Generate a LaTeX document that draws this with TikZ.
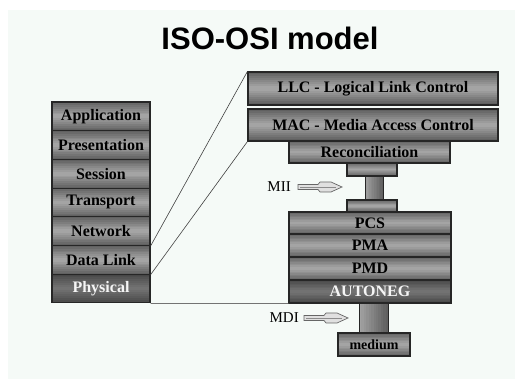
\documentclass[tikz,border=0pt]{standalone}
\usepackage{fontspec}
\setmainfont{Liberation Serif}
\newfontfamily\titlefont{Liberation Sans}
\usetikzlibrary{calc,backgrounds}
\definecolor{bgc}{RGB}{245,250,247}
\definecolor{dk}{RGB}{92,92,92}
\definecolor{md}{RGB}{170,170,170}
\definecolor{dkk}{RGB}{68,68,68}
\definecolor{mdd}{RGB}{118,118,118}
\definecolor{cyll}{RGB}{165,165,165}
\definecolor{txt}{RGB}{0,0,0}
\definecolor{ltxt}{RGB}{245,245,245}
\tikzset{
  layer/.style={draw=black!85, line width=1.1pt, inner sep=0pt, text=txt, font=\fontsize{16}{16}\bfseries\selectfont},
  darklayer/.style={layer, text=ltxt},
  cyl/.style={draw=black!85, line width=0.8pt, inner sep=0pt},
  lbl/.style={text=txt, font=\fontsize{15}{15}\selectfont, inner sep=0pt},
  link/.style={draw=black!75, line width=0.6pt},
  hollowarrow/.pic={
    \draw[fill=black!12, draw=black!60, line width=0.7pt]
      (0,-2.5) -- (20,-2.5) -- (22,-5) -- (33,-5) -- (44,0) -- (33,5) -- (22,5) -- (20,2.5) -- (0,2.5) -- cycle;
    \draw[black!45, line width=0.5pt] (2,0) -- (38,0);
  }
}
% vertical gradient (edge colour #2 at top and bottom, #3 in the middle)
\newcommand\vgradbox[3]{%
  \begin{pgfonlayer}{background}
  \foreach \i in {0,...,15} {
    \pgfmathtruncatemacro\p{100*(1-abs((\i+0.5)/8-1))}
    \fill[#3!\p!#2] ($(#1.north west)!{\i/16}!(#1.south west)$) rectangle ($(#1.north east)!{min(1,(\i+1.2)/16)}!(#1.south east)$);
  }
  \end{pgfonlayer}}
% horizontal gradient, light left to dark right
\newcommand\hgradbox[3]{%
  \begin{pgfonlayer}{background}
  \foreach \i in {0,...,11} {
    \pgfmathtruncatemacro\p{100*(\i+0.5)/12}
    \fill[#3!\p!#2] ($(#1.north west)!{\i/12}!(#1.north east)$) rectangle ($(#1.south west)!{min(1,(\i+1.2)/12)}!(#1.south east)$);
  }
  \end{pgfonlayer}}
\begin{document}
\begin{tikzpicture}[x=1pt,y=-1pt]
\useasboundingbox (0,0) rectangle (515,379);
\begin{pgfonlayer}{background}
\fill[white] (0,0) rectangle (515,379);
\fill[bgc] (8,10) rectangle (515,379);
\end{pgfonlayer}

\node[text=black, font=\titlefont\bfseries\fontsize{31}{31}\selectfont, anchor=base, inner sep=0pt] (title) at (270,50) {ISO-OSI model};

% left OSI stack
\node[layer, minimum width=98, minimum height=28.7] (app)  at (101,116.35) {Application};
\node[layer, minimum width=98, minimum height=28.7] (pres) at (101,145.05) {Presentation};
\node[layer, minimum width=98, minimum height=28.7] (sess) at (101,173.75) {Session};
\node[layer, minimum width=98, minimum height=28.7] (trans) at (101,202.45) {Transport};
\node[layer, minimum width=98, minimum height=28.7] (net)  at (101,231.15) {Network};
\node[layer, minimum width=98, minimum height=28.7] (dl)   at (101,259.85) {Data Link};
\node[darklayer, minimum width=98, minimum height=28.7] (phy) at (101,288.55) {Physical};

% right stack
\node[layer, minimum width=250, minimum height=33] (llc) at (373,88.5) {LLC - Logical Link Control};
\node[layer, minimum width=250, minimum height=32] (mac) at (373,125) {MAC - Media Access Control};
\node[layer, minimum width=161, minimum height=22] (rec) at (369.5,152) {Reconciliation};
\node[layer, minimum width=50, minimum height=13] (c1) at (372,169.5) {};
\node[cyl, minimum width=18, minimum height=24] (cy1) at (374,188) {};
\node[layer, minimum width=50, minimum height=12] (c2) at (372,206) {};
\node[layer, minimum width=162, minimum height=22] (pcs) at (370,223) {PCS};
\node[layer, minimum width=162, minimum height=23] (pma) at (370,245.5) {PMA};
\node[layer, minimum width=162, minimum height=23] (pmd) at (370,268.5) {PMD};
\node[darklayer, minimum width=162, minimum height=23] (auto) at (370,291.5) {AUTONEG};
\node[cyl, minimum width=29, minimum height=30] (cy2) at (373.5,318) {};
\node[layer, minimum width=72, minimum height=23, font=\fontsize{14}{14}\bfseries\selectfont] (med) at (374,344.5) {medium};

% gradients behind the boxes
\vgradbox{app}{dk}{md}
\vgradbox{pres}{dk}{md}
\vgradbox{sess}{dk}{md}
\vgradbox{trans}{dk}{md}
\vgradbox{net}{dk}{md}
\vgradbox{dl}{dk}{md}
\vgradbox{phy}{dkk}{mdd}
\vgradbox{llc}{dk}{md}
\vgradbox{mac}{dk}{md}
\vgradbox{rec}{dk}{md}
\vgradbox{c1}{dk}{md}
\vgradbox{c2}{dk}{md}
\vgradbox{pcs}{dk}{md}
\vgradbox{pma}{dk}{md}
\vgradbox{pmd}{dk}{md}
\vgradbox{auto}{dkk}{mdd}
\vgradbox{med}{dk}{md}
\hgradbox{cy1}{cyll}{dk}
\hgradbox{cy2}{cyll}{dk}

% labels and arrows
\node[lbl, anchor=east] (mii) at (291,187) {MII};
\pic at (298,187) {hollowarrow};
\node[lbl, anchor=east] (mdi) at (299,318) {MDI};
\pic at (304,318) {hollowarrow};

% connectors
\draw[link] (net.south east) -- (llc.north west);
\draw[link] (dl.south east) -- (mac.south west);
\draw[draw=black!55, line width=0.7pt] (phy.south east) -- (auto.south west);
\end{tikzpicture}
\end{document}
